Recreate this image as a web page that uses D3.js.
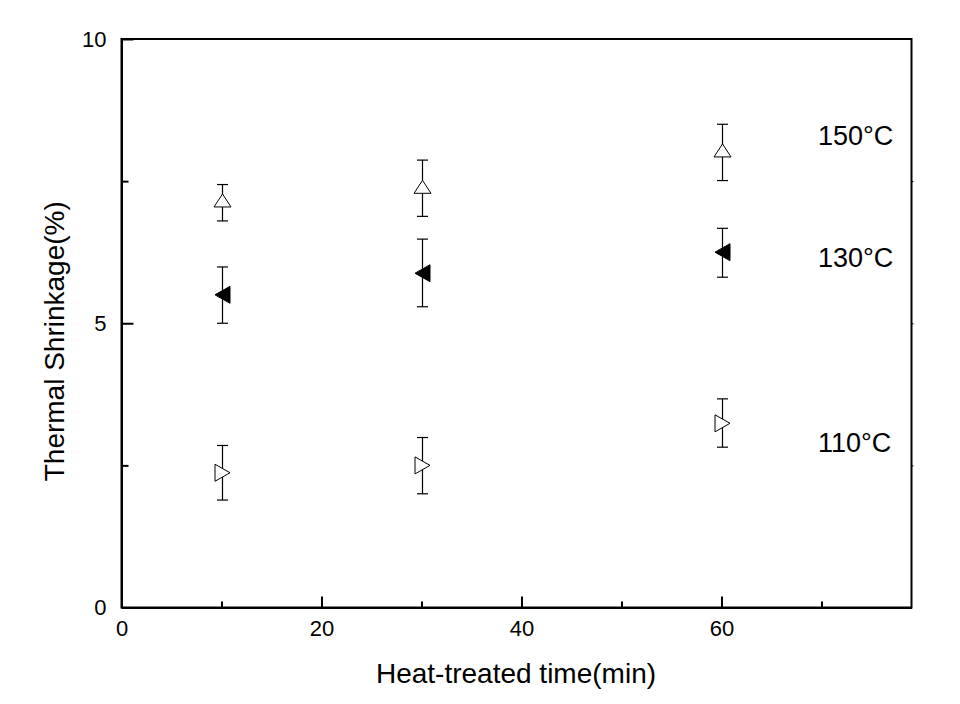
<!DOCTYPE html>
<html>
<head>
<meta charset="utf-8">
<script src="https://cdn.jsdelivr.net/npm/d3@7"></script>
<style>
  html, body { margin: 0; padding: 0; background: #fff; }
  svg text { font-family: "Liberation Sans", Arial, sans-serif; fill: #000; }
</style>
</head>
<body>
<svg id="chart" width="960" height="704"></svg>
<script>
// ---- data ----
const times = [10, 30, 60];
const seriesNames = ["150°C", "130°C", "110°C"];
const shrink150 = [7.16, 7.40, 8.04];
const upper150  = [7.44, 7.87, 8.50];
const lower150  = [6.80, 6.88, 7.51];
const shrink130 = [5.50, 5.88, 6.25];
const upper130  = [5.99, 6.48, 6.67];
const lower130  = [5.00, 5.29, 5.81];
const shrink110 = [2.37, 2.50, 3.24];
const upper110  = [2.85, 2.99, 3.67];
const lower110  = [1.89, 2.00, 2.82];
const labelY = [8.3, 6.15, 2.9];
const xTicks = [0, 20, 40, 60];
const xMinorTicks = [10, 30, 50, 70];
const yTicks = [0, 5, 10];
const yMinorTicks = [2.5, 7.5];
const xTitle = "Heat-treated time(min)";
const yTitle = "Thermal Shrinkage(%)";

const svg = d3.select("#chart");
const L = 121.5, R = 911.5, T = 39, B = 607.5;
const x = d3.scaleLinear().domain([0, 79]).range([L, R]);
const y = d3.scaleLinear().domain([0, 10]).range([B, T]);

// frame
svg.append("rect").attr("x", L).attr("y", T).attr("width", R - L).attr("height", B - T)
  .attr("fill", "none").attr("stroke", "#000").attr("stroke-width", 2);

// bottom axis (ticks inward)
const gx = svg.append("g").attr("transform", `translate(0,${B})`)
  .call(d3.axisBottom(x).tickValues(xTicks).tickSizeInner(-11).tickSizeOuter(0).tickPadding(13));
gx.select(".domain").attr("stroke-width", 2);
gx.selectAll(".tick line").attr("stroke-width", 2);
gx.selectAll("text").attr("font-size", 22).attr("font-family", "Liberation Sans, Arial, sans-serif");
const gx2 = svg.append("g").attr("transform", `translate(0,${B})`)
  .call(d3.axisBottom(x).tickValues(xMinorTicks).tickSizeInner(-6).tickSizeOuter(0).tickFormat(""));
gx2.select(".domain").remove();
gx2.selectAll(".tick line").attr("stroke-width", 2);

// left axis (ticks inward)
const gy = svg.append("g").attr("transform", `translate(${L},0)`)
  .call(d3.axisLeft(y).tickValues(yTicks).tickSizeInner(-12).tickSizeOuter(0).tickPadding(15));
gy.select(".domain").attr("stroke-width", 2);
gy.selectAll(".tick line").attr("stroke-width", 2);
gy.selectAll("text").attr("font-size", 22).attr("font-family", "Liberation Sans, Arial, sans-serif");
const gy2 = svg.append("g").attr("transform", `translate(${L},0)`)
  .call(d3.axisLeft(y).tickValues(yMinorTicks).tickSizeInner(-7).tickSizeOuter(0).tickFormat(""));
gy2.select(".domain").remove();
gy2.selectAll(".tick line").attr("stroke-width", 2);

// right axis tiny outward ticks
const gr = svg.append("g").attr("transform", `translate(${R},0)`)
  .call(d3.axisRight(y).tickValues([2.5, 5, 7.5]).tickSizeInner(2).tickSizeOuter(0).tickFormat(""));
gr.select(".domain").remove();
gr.selectAll(".tick line").attr("stroke-width", 1);

// axis titles
svg.append("text").attr("x", (L + R) / 2 - 0.5).attr("y", 683).attr("text-anchor", "middle")
  .attr("font-size", 28).text(xTitle);
svg.append("text").attr("transform", `translate(64,${(T + B) / 2 + 18}) rotate(-90)`)
  .attr("text-anchor", "middle").attr("font-size", 28).text(yTitle);

// markers
function triPath(dir, w, h) {
  const hw = w / 2, hh = h / 2;
  if (dir === "up") return `M0,${-hh}L${hw},${hh}L${-hw},${hh}Z`;
  if (dir === "left") return `M${-hw},0L${hw},${-hh}L${hw},${hh}Z`;
  return `M${hw},0L${-hw},${-hh}L${-hw},${hh}Z`;
}
const series = [
  { vals: shrink150, up: upper150, lo: lower150, dir: "up", w: 17, h: 13, fill: "#fff" },
  { vals: shrink130, up: upper130, lo: lower130, dir: "left", w: 15, h: 17, fill: "#000" },
  { vals: shrink110, up: upper110, lo: lower110, dir: "right", w: 15, h: 17, fill: "#fff" }
];
series.forEach((s, si) => {
  const g = svg.append("g");
  const pts = times.map((t, i) => ({ t, v: s.vals[i], u: s.up[i], l: s.lo[i] }));
  g.selectAll("line.eb").data(pts).join("line")
    .attr("x1", d => Math.round(x(d.t)) + 0.5).attr("x2", d => Math.round(x(d.t)) + 0.5)
    .attr("y1", d => y(d.u)).attr("y2", d => y(d.l)).attr("stroke", "#000").attr("stroke-width", 1.2);
  ["u", "l"].forEach(k => {
    g.selectAll("line.cap" + k).data(pts).join("line")
      .attr("x1", d => Math.round(x(d.t)) + 0.5 - 5.5).attr("x2", d => Math.round(x(d.t)) + 0.5 + 5.5)
      .attr("y1", d => y(d[k])).attr("y2", d => y(d[k])).attr("stroke", "#000").attr("stroke-width", 1.2);
  });
  g.selectAll("path").data(pts).join("path")
    .attr("transform", d => `translate(${Math.round(x(d.t)) + 0.5},${y(d.v)})`)
    .attr("d", triPath(s.dir, s.w, s.h))
    .attr("fill", s.fill).attr("stroke", "#000").attr("stroke-width", 1);
  svg.append("text").attr("x", 818).attr("y", y(labelY[si]) + 9)
    .attr("font-size", 27).text(seriesNames[si]);
});
</script>
</body>
</html>
